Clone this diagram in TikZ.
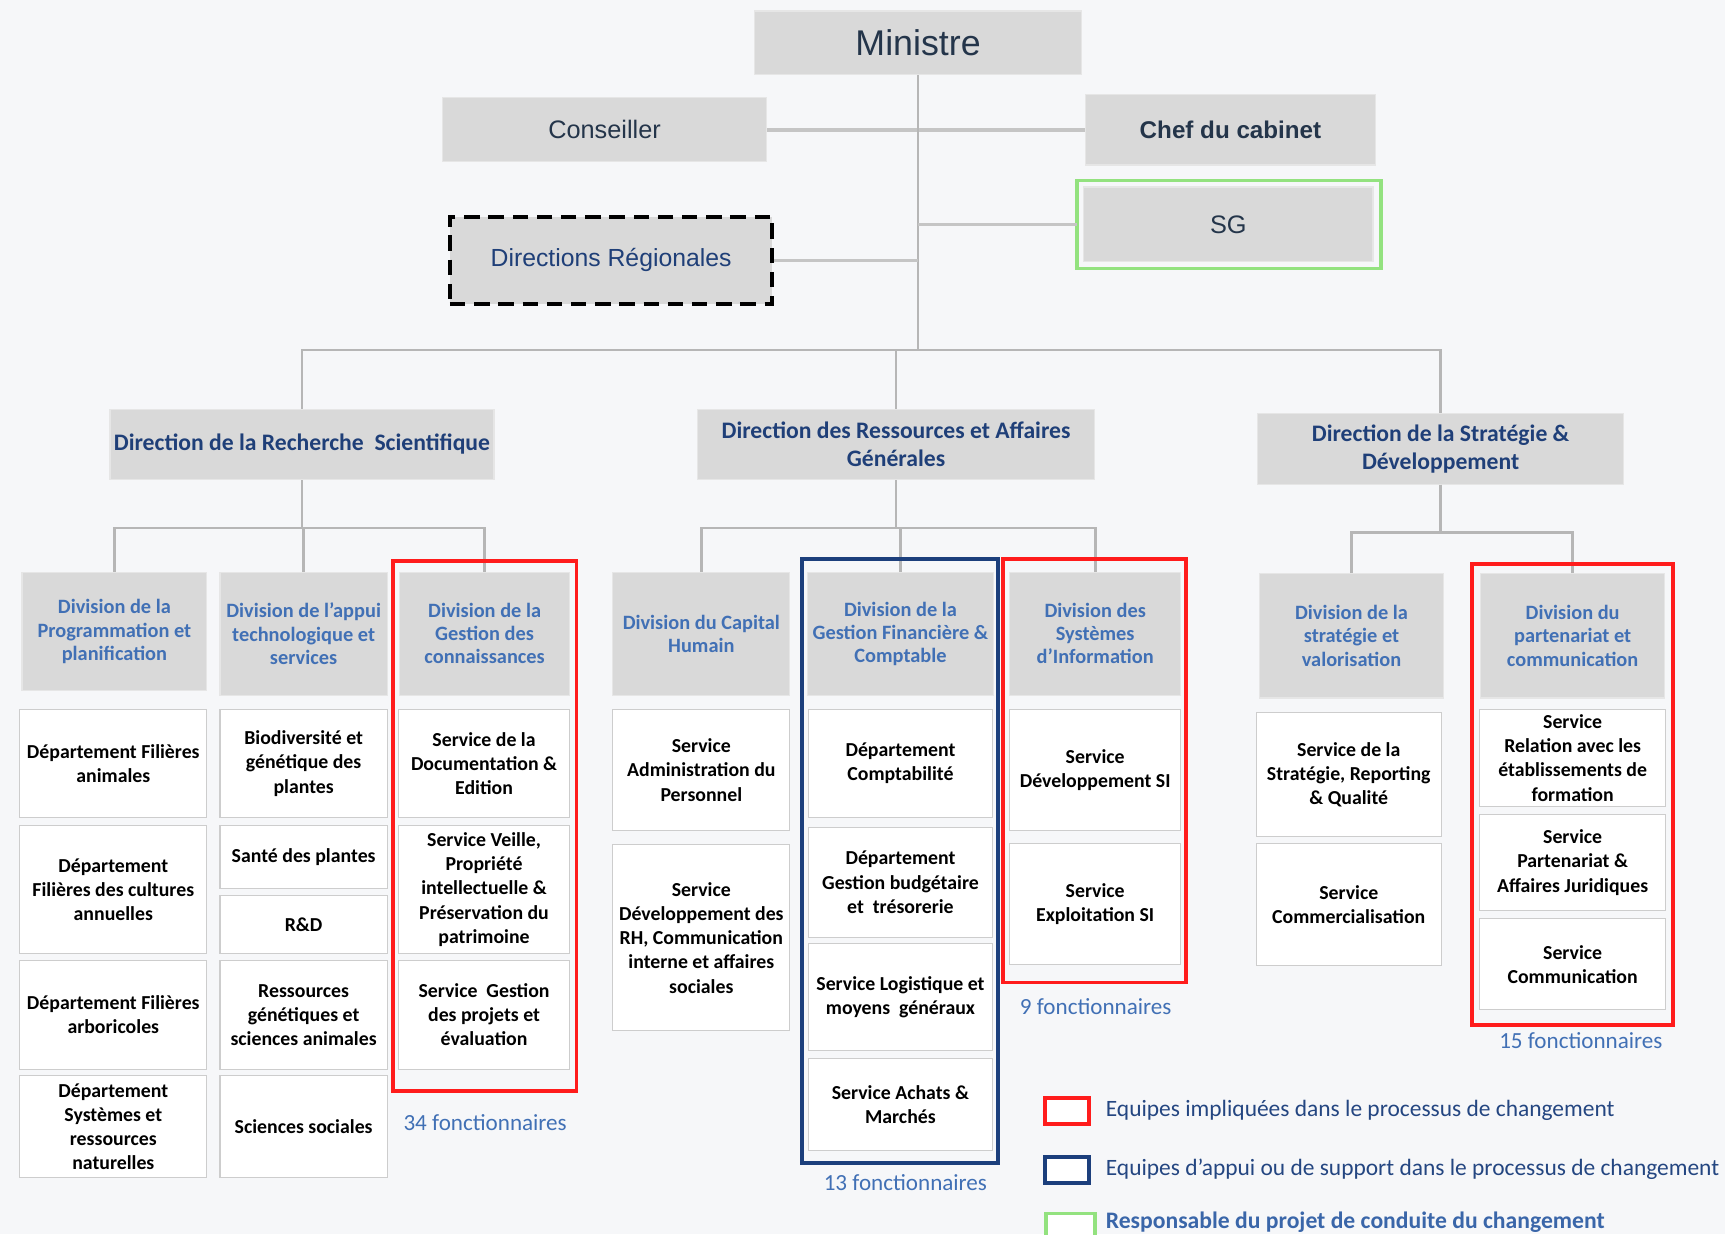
\documentclass[tikz,border=0pt]{standalone}
\usepackage{fontspec}
\setmainfont{Carlito}
\newfontfamily\arialf{Liberation Sans}
\definecolor{bgc}{HTML}{F6F7F9}
\definecolor{boxgray}{HTML}{D9D9D9}
\definecolor{boxedge}{HTML}{E6E6E6}
\definecolor{linegray}{HTML}{B6B6B6}
\definecolor{navy}{HTML}{1F3F78}
\definecolor{divblue}{HTML}{4170B5}
\definecolor{topink}{HTML}{24354A}
\definecolor{redc}{HTML}{FF1C1C}
\definecolor{bluec}{HTML}{1C3F7C}
\definecolor{greenc}{HTML}{93E27F}
\definecolor{svcborder}{HTML}{CDCDCD}
\tikzset{
  graybox/.style={fill=boxgray, draw=boxedge, line width=1pt, inner sep=0pt, align=center},
  topbox/.style={graybox, text=topink, font=\arialf\fontsize{23}{26}\selectfont},
  dirbox/.style={graybox, text=navy, font=\bfseries\fontsize{21.5}{25}\selectfont},
  divbox/.style={graybox, text=divblue, font=\bfseries\fontsize{18.5}{21}\selectfont},
  svcbox/.style={fill=white, draw=svcborder, line width=1pt, inner sep=0pt, align=center,
    font=\bfseries\fontsize{18}{22}\selectfont},
  conn/.style={draw=linegray, line width=2.4pt},
  countlbl/.style={text=divblue, font=\fontsize{21}{24}\selectfont, inner sep=0pt},
  legtxt/.style={text=navy!85!divblue, font=\fontsize{21.3}{24}\selectfont, anchor=west, inner sep=0pt},
  redframe/.style={draw=redc, line width=3.5pt},
  blueframe/.style={draw=bluec, line width=3.5pt},
  greenframe/.style={draw=greenc, line width=3.5pt},
}
\begin{document}
\begin{tikzpicture}[x=1pt,y=-1pt]
\useasboundingbox (0,0) rectangle (1568,1122);
\fill[bgc] (0,0) rectangle (1568,1122);

% top level
\node[topbox, minimum width=297pt, minimum height=58pt, font=\arialf\fontsize{32.5}{36}\selectfont] (min) at (834.5,39) {Ministre};
\node[topbox, minimum width=295pt, minimum height=58pt] (cons) at (549.5,118) {Conseiller};
\node[topbox, minimum width=263pt, minimum height=64pt, font=\arialf\bfseries\fontsize{22}{26}\selectfont] (chef) at (1118.5,118) {Chef du cabinet};
\node[topbox, minimum width=263pt, minimum height=68pt] (sg) at (1116.5,204) {SG};
\draw[greenframe] (979,164) rectangle (1255,244);
\node[topbox, text=navy, minimum width=293pt, minimum height=79pt, draw=black, line width=3.5pt,
  dash pattern=on 14pt off 8pt, font=\arialf\fontsize{22.5}{26}\selectfont] (dr) at (555.5,236.5) {Directions Régionales};

% directions
\node[dirbox, minimum width=349pt, minimum height=64pt] (drs) at (274.5,404) {Direction de la Recherche\ \ Scientifique};
\node[dirbox, minimum width=361pt, minimum height=64pt] (drag) at (814.5,404) {Direction des Ressources et Affaires\\Générales};
\node[dirbox, minimum width=333pt, minimum height=64pt] (dsd) at (1309.5,408) {Direction de la Stratégie \&\\Développement};

% divisions
\node[divbox, minimum width=168pt, minimum height=108pt] (d1) at (104,574) {Division de la\\Programmation et\\planification};
\node[divbox, minimum width=152pt, minimum height=112pt] (d2) at (276,576) {Division de l'appui\\technologique et\\services};
\node[divbox, minimum width=155pt, minimum height=112pt] (d3) at (440.5,576) {Division de la\\Gestion des\\connaissances};
\node[divbox, minimum width=161pt, minimum height=112pt] (d4) at (637.5,576) {Division du Capital\\Humain};
\node[divbox, minimum width=169pt, minimum height=112pt] (d5) at (818.5,576) {Division de la\\Gestion Financière \&\\Comptable};
\node[divbox, minimum width=155pt, minimum height=112pt] (d6) at (995.5,576) {Division des\\Systèmes\\d'Information};
\node[divbox, minimum width=167pt, minimum height=113pt] (d7) at (1228.5,578) {Division de la\\stratégie et\\valorisation};
\node[divbox, minimum width=167pt, minimum height=113pt] (d8) at (1429.5,578) {Division du\\partenariat et\\communication};

% services col 1
\node[svcbox, minimum width=170pt, minimum height=98pt] (s11) at (103,694) {Département Filières\\animales};
\node[svcbox, minimum width=170pt, minimum height=117pt] (s12) at (103,808.5) {Département\\Filières des cultures\\annuelles};
\node[svcbox, minimum width=170pt, minimum height=99pt] (s13) at (103,922.5) {Département Filières\\arboricoles};
\node[svcbox, minimum width=170pt, minimum height=92pt] (s14) at (103,1024) {Département\\Systèmes et\\ressources\\naturelles};
% col 2
\node[svcbox, minimum width=152pt, minimum height=98pt] (s21) at (276,694) {Biodiversité et\\génétique des\\plantes};
\node[svcbox, minimum width=152pt, minimum height=58pt] (s22) at (276,779) {Santé des plantes};
\node[svcbox, minimum width=152pt, minimum height=53pt] (s23) at (276,840.5) {R\&D};
\node[svcbox, minimum width=152pt, minimum height=99pt] (s24) at (276,922.5) {Ressources\\génétiques et\\sciences animales};
\node[svcbox, minimum width=152pt, minimum height=92pt] (s25) at (276,1024) {Sciences sociales};
% col 3
\node[svcbox, minimum width=156pt, minimum height=98pt] (s31) at (440,694) {Service de la\\Documentation \&\\Edition};
\node[svcbox, minimum width=156pt, minimum height=117pt] (s32) at (440,808.5) {Service Veille,\\Propriété\\intellectuelle \&\\Préservation du\\patrimoine};
\node[svcbox, minimum width=156pt, minimum height=99pt] (s33) at (440,922.5) {Service\ \ Gestion\\des projets et\\évaluation};
% col 4
\node[svcbox, minimum width=161pt, minimum height=110pt] (s41) at (637.5,700) {Service\\Administration du\\Personnel};
\node[svcbox, minimum width=161pt, minimum height=169pt] (s42) at (637.5,852.5) {Service\\Développement des\\RH, Communication\\interne et affaires\\sociales};
% col 5
\node[svcbox, minimum width=167pt, minimum height=98pt] (s51) at (818.5,694) {Département\\Comptabilité};
\node[svcbox, minimum width=167pt, minimum height=100pt] (s52) at (818.5,802) {Département\\Gestion budgétaire\\et\ \ trésorerie};
\node[svcbox, minimum width=167pt, minimum height=97pt] (s53) at (818.5,906.5) {Service Logistique et\\moyens\ \ généraux};
\node[svcbox, minimum width=167pt, minimum height=84pt] (s54) at (818.5,1004) {Service Achats \&\\Marchés};
% col 6
\node[svcbox, minimum width=155pt, minimum height=110pt] (s61) at (995.5,700) {Service\\Développement SI};
\node[svcbox, minimum width=155pt, minimum height=110pt] (s62) at (995.5,822) {Service\\Exploitation SI};
% col 7
\node[svcbox, minimum width=168pt, minimum height=112pt] (s71) at (1226,704) {Service de la\\Stratégie, Reporting\\\& Qualité};
\node[svcbox, minimum width=168pt, minimum height=111pt] (s72) at (1226,822.5) {Service\\Commercialisation};
% col 8
\node[svcbox, minimum width=169pt, minimum height=88pt] (s81) at (1429.5,689) {Service\\Relation avec les\\établissements de\\formation};
\node[svcbox, minimum width=169pt, minimum height=88pt] (s82) at (1429.5,784) {Service\\Partenariat \&\\Affaires Juridiques};
\node[svcbox, minimum width=169pt, minimum height=83pt] (s83) at (1429.5,876.5) {Service\\Communication};

% connectors top
\coordinate (bar) at (834.5,318);
\coordinate (b1) at (274.5,480);
\coordinate (b2) at (814.5,480);
\coordinate (b3) at (1309.5,484);
\draw[conn, line width=3.5pt, draw=linegray!80] (cons.east) -- (chef.west);
\draw[conn] (min.south) -- (bar);
\draw[conn, line width=3.5pt, draw=linegray!80] (min.south |- sg.west) -- (979,204);
\draw[conn, line width=3pt, draw=linegray!80] (dr.east) -- (min.south |- dr.east);
\draw[conn] (drs.north) |- (bar) -| (dsd.north);
\draw[conn] (drag.north) -- (drag.north |- bar);
% second level
\draw[conn] (drs.south) -- (b1);
\draw[conn] (d1.north) |- (b1) -| (d3.north);
\draw[conn] (d2.north) -- (d2.north |- b1);
\draw[conn] (drag.south) -- (b2);
\draw[conn] (d4.north) |- (b2) -| (d6.north);
\draw[conn] (d5.north) -- (d5.north |- b2);
\draw[conn] (dsd.south) -- (b3);
\draw[conn] (d7.north) |- (b3) -| (d8.north);

% frames
\draw[redframe] (357,510) rectangle (524,992);
\draw[blueframe] (729,508) rectangle (907,1057);
\draw[redframe] (912,508) rectangle (1078,893);
\draw[redframe] (1338,513) rectangle (1521,932);

% counts
\node[countlbl] (c3) at (441,1020) {34 fonctionnaires};
\node[countlbl] (c5) at (823,1075) {13 fonctionnaires};
\node[countlbl] (c6) at (996,915) {9 fonctionnaires};
\node[countlbl] (c8) at (1437,946) {15 fonctionnaires};

% legend
\node[draw=redc, line width=3.5pt, fill=white, minimum width=40pt, minimum height=24pt, inner sep=0pt] (lr) at (970,1010) {};
\node[draw=bluec, line width=3.5pt, fill=white, minimum width=40pt, minimum height=23pt, inner sep=0pt] (lb) at (970,1063.5) {};
\node[draw=greenc, line width=3.5pt, fill=white, minimum width=44pt, minimum height=24pt, inner sep=0pt] (lg) at (973,1115) {};
\node[legtxt] (ltr) at (1005,1009) {Equipes impliquées dans le processus de changement};
\node[legtxt] (ltb) at (1005,1063) {Equipes d’appui ou de support dans le processus de changement};
\node[legtxt, font=\bfseries\fontsize{21.5}{24}\selectfont, text=divblue!80!navy] (ltg) at (1005,1111) {Responsable du projet de conduite du changement};
\end{tikzpicture}
\end{document}
